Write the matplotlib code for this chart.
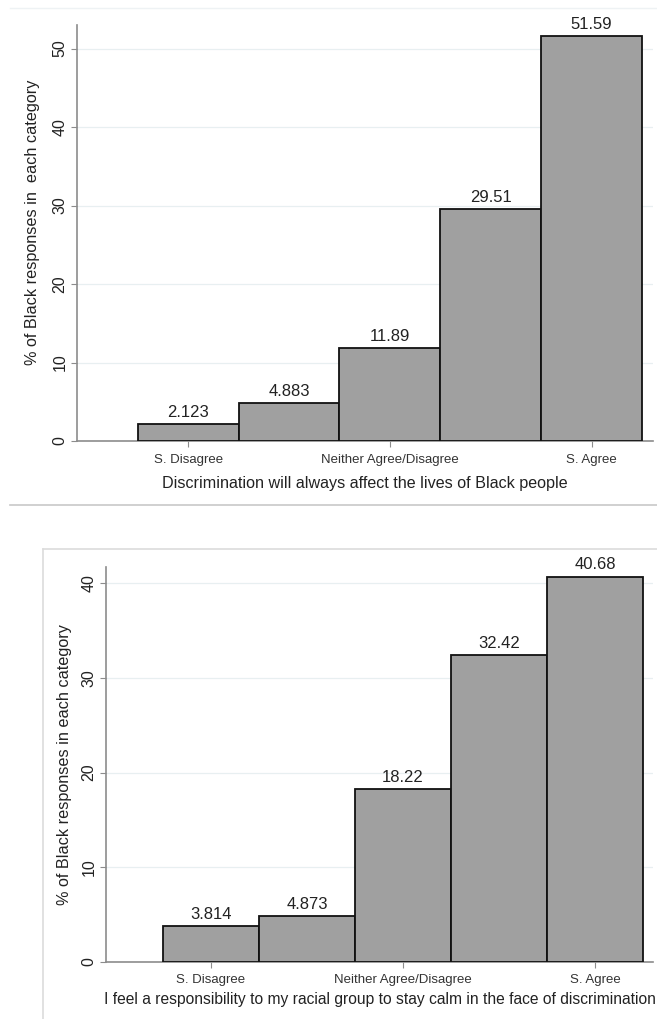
import matplotlib.pyplot as plt
from matplotlib.lines import Line2D

# data
cats = [1, 2, 3, 4, 5]
tick_pos = [1, 3, 5]
tick_labels = ['S. Disagree', 'Neither Agree/Disagree', 'S. Agree']
vals_top = [2.123, 4.883, 11.89, 29.51, 51.59]
vals_bot = [3.814, 4.873, 18.22, 32.42, 40.68]
ylab_top = '% of Black responses in  each category'
ylab_bot = '% of Black responses in each category'
xlab_top = 'Discrimination will always affect the lives of Black people'
xlab_bot = 'I feel a responsibility to my racial group to stay calm in the face of discrimination'

plt.rcParams['font.family'] = ['Liberation Sans', 'DejaVu Sans']
W, H = 657, 1019
fig = plt.figure(figsize=(W / 100, H / 100), dpi=100)
fig.patch.set_facecolor('white')

def rect(x0, x1, ytop, ybot):
    return [x0 / W, 1 - ybot / H, (x1 - x0) / W, (ybot - ytop) / H]

def panel(r, vals, yticks, ymax, xlo, xhi, ylab, xlab, ylpos, xly, xlsize):
    ax = fig.add_axes(r)
    ax.bar(cats, vals, width=1.0, color='#a0a0a0', edgecolor='#111111', linewidth=1.3, zorder=3)
    for x, v in zip(cats, vals):
        ax.annotate(f'{v:.4g}', (x, v), xytext=(0, 3), textcoords='offset points',
                    ha='center', va='bottom', fontsize=12, color='#222222')
    ax.set_xlim(xlo, xhi)
    ax.set_ylim(0, ymax)
    ax.set_yticks(yticks)
    ax.set_xticks(tick_pos)
    ax.set_xticklabels(tick_labels, fontsize=9.5, color='#333333',
                       family=['Liberation Sans Narrow', 'Liberation Sans'])
    for t in yticks:
        ax.axhline(t, color='#e8eff1', lw=0.9, zorder=1)
    ax.tick_params(axis='y', labelrotation=90, length=4, color='#8c8c8c', labelsize=11.5, labelcolor='#222222', pad=3)
    for lab in ax.get_yticklabels():
        lab.set_va('center')
    ax.tick_params(axis='x', length=4, color='#8c8c8c', pad=5)
    for s in ['top', 'right']:
        ax.spines[s].set_visible(False)
    for s in ['left', 'bottom']:
        ax.spines[s].set_color('#8c8c8c')
        ax.spines[s].set_linewidth(1.2)
    ax.set_ylabel(ylab, fontsize=11.7, color='#222222', va='center')
    ax.yaxis.set_label_coords(*ylpos)
    ax.set_xlabel(xlab, fontsize=xlsize, color='#222222', va='center')
    ax.xaxis.set_label_coords(0.5, xly)
    return ax

panel(rect(77, 653, 25, 441), vals_top, [0, 10, 20, 30, 40, 50], 53.0,
      -0.104, 5.61, ylab_top, xlab_top, (-0.078, 0.526), -0.101, 11.6)
panel(rect(106, 653, 567, 962), vals_bot, [0, 10, 20, 30, 40], 41.7,
      -0.094, 5.604, ylab_bot, xlab_bot, (-0.075, 0.5), -0.0962, 11.25)

# screenshot frame lines
fig.add_artist(Line2D([10 / W, 1], [1 - 8 / H] * 2, color='#eef2f4', lw=1))
fig.add_artist(Line2D([10 / W, 1], [1 - 505 / H] * 2, color='#c8c8c8', lw=1.2))
fig.add_artist(Line2D([43 / W, 1], [1 - 549 / H] * 2, color='#dcdcdc', lw=1.2))
fig.add_artist(Line2D([43 / W, 43 / W], [0, 1 - 549 / H], color='#dcdcdc', lw=1.2))

fig.savefig('out.png', dpi=100)
